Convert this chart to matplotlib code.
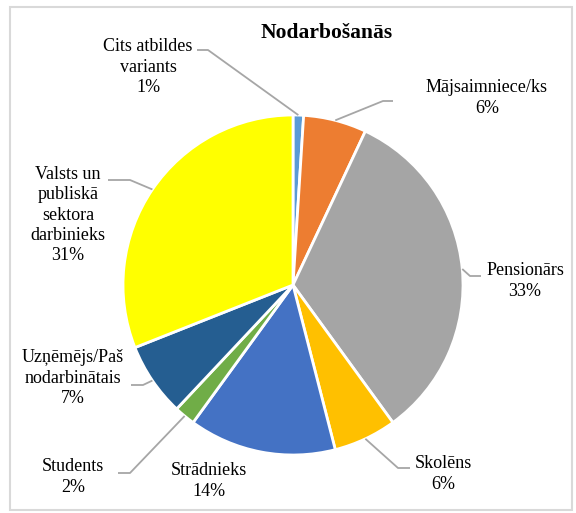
import numpy as np
import matplotlib.pyplot as plt
from matplotlib.patches import Rectangle

plt.rcParams['font.family'] = ['Liberation Serif', 'DejaVu Serif']

# data
labels = ["Cits atbildes\nvariants", "Mājsaimniece/ks", "Pensionārs", "Skolēns",
          "Strādnieks", "Students", "Uzņēmējs/Paš\nnodarbinātais",
          "Valsts un\npubliskā\nsektora\ndarbinieks"]
values = [1, 6, 33, 6, 14, 2, 7, 31]
colors = ["#5B9BD5", "#ED7D31", "#A5A5A5", "#FFC000",
          "#4472C4", "#70AD47", "#255E91", "#FFFF00"]

# layout, in figure pixels (from top-left)
W, H = 576, 513
CX, CY, R = 293, 285, 170
label_px = [(148, 67), (487, 98), (525, 281), (443, 474),
            (209, 481), (73, 477), (73, 378), (68, 215)]
# elbow and end point of each leader line (None = no leader)
leader_px = [((208, 50), (197, 50)), ((383, 101), (393, 101)),
             ((470, 276), (481, 276)), ((398, 468), (410, 468)),
             None, ((130, 473), (118, 473)), ((143, 385), (131, 385)),
             ((130, 180), (108, 180))]


def px(x, y):
    return (x - CX) / R, (CY - y) / R


fig = plt.figure(figsize=(W / 100, H / 100), dpi=100)
ax = fig.add_axes([0, 0, 1, 1])
ax.axis("off")

wedges, _ = ax.pie(values, colors=colors, startangle=90, counterclock=False,
                   radius=1, center=(0, 0),
                   wedgeprops=dict(edgecolor="white", linewidth=2))
ax.set_xlim(-CX / R, (W - CX) / R)
ax.set_ylim(-(H - CY) / R, CY / R)
ax.set_aspect("auto")

total = sum(values)
for w, lab, v, lp, ld in zip(wedges, labels, values, label_px, leader_px):
    x, y = px(*lp)
    ax.text(x, y, f"{lab}\n{round(v / total * 100)}%", ha="center", va="center",
            fontsize=13, color="#000000", linespacing=1.24)
    if ld is None:
        continue
    ang = np.deg2rad((w.theta1 + w.theta2) / 2)
    sx, sy = np.cos(ang), np.sin(ang)
    ex1, ey1 = px(*ld[0])
    ex2, ey2 = px(*ld[1])
    ax.plot([sx, ex1, ex2], [sy, ey1, ey2], color="#A6A6A6", lw=1.3,
            solid_capstyle="butt")

ax.text(*px(327, 33), "Nodarbošanās", ha="center", va="center",
        fontsize=15.5, fontweight="bold")

fig.patches.append(Rectangle((10 / W, 3 / H), 562 / W, 503 / H,
                             transform=fig.transFigure, fill=False,
                             edgecolor="#D9D9D9", linewidth=1.5))

fig.savefig("out.png", dpi=100)
